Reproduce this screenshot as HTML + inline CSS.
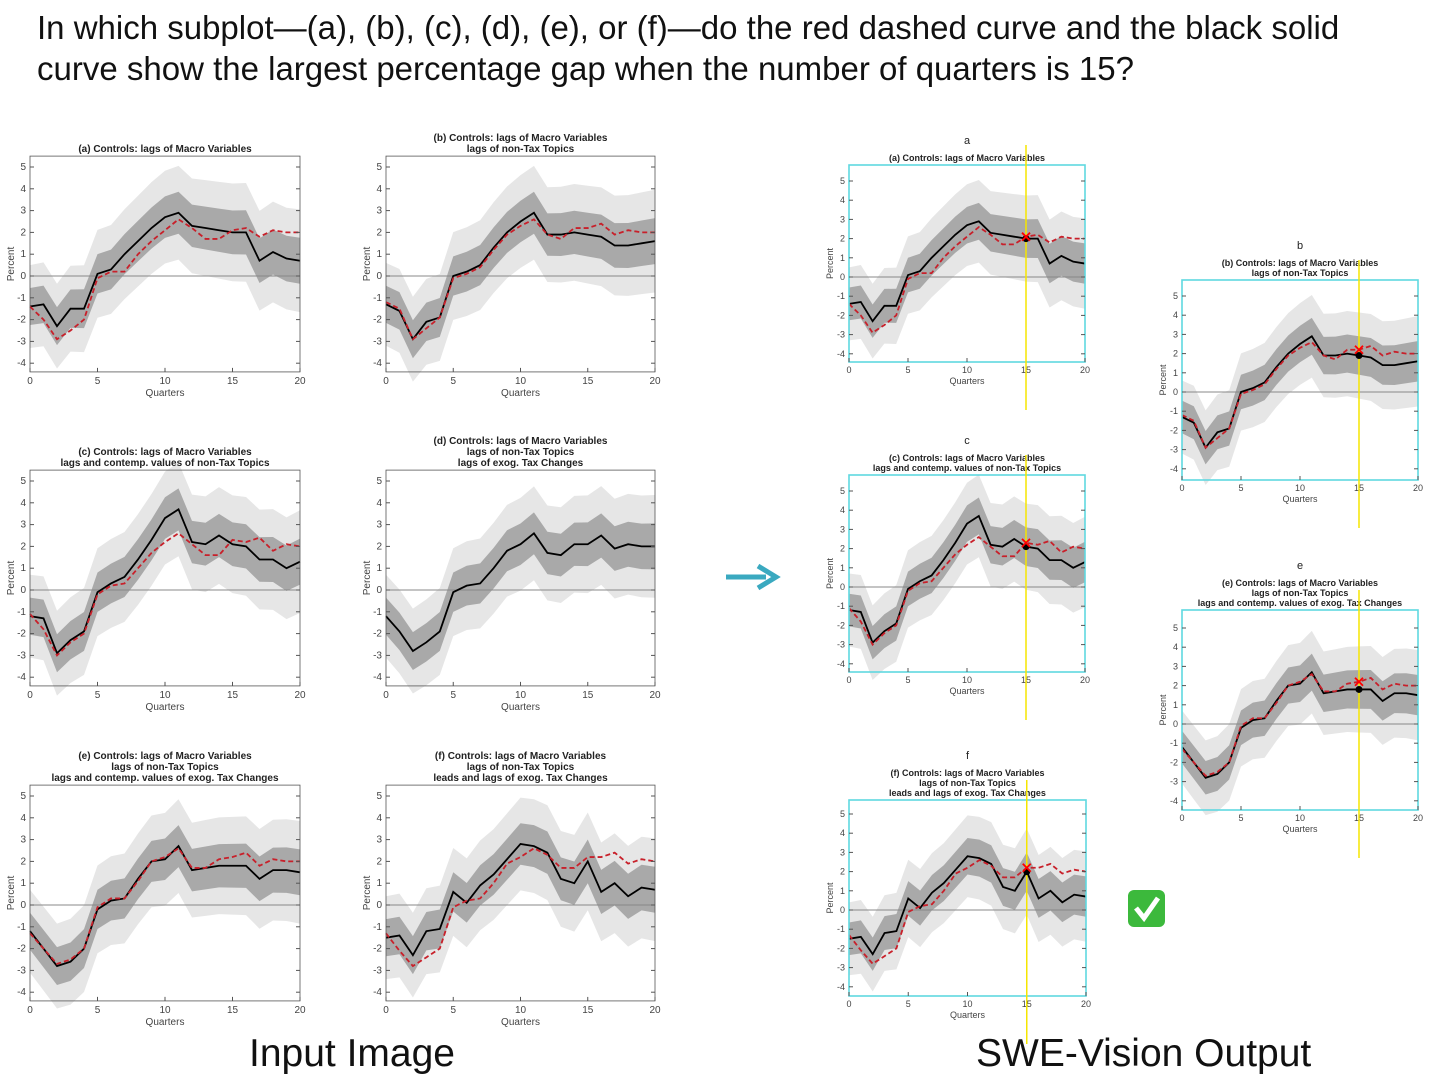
<!DOCTYPE html>
<html><head><meta charset="utf-8"><style>
html,body{margin:0;padding:0;background:#fff;}
body{width:1452px;height:1086px;overflow:hidden;position:relative;font-family:"Liberation Sans",sans-serif;}
.q{position:absolute;left:37px;top:7px;font-size:33px;line-height:41px;color:#111;white-space:nowrap;}
.cap{position:absolute;font-size:39px;color:#111;}
svg{position:absolute;left:0;top:0;}
</style></head><body>
<div class="q">In which subplot—(a), (b), (c), (d), (e), or (f)—do the red dashed curve and the black solid<br>curve show the largest percentage gap when the number of quarters is 15?</div>
<div class="cap" style="left:249px;top:1032px;">Input Image</div>
<div class="cap" style="left:976px;top:1032px;">SWE-Vision Output</div>
<svg id="s" width="1452" height="1086" xmlns="http://www.w3.org/2000/svg"></svg>
<script>
const D={
a:{k:[-1.4,-1.3,-2.3,-1.5,-1.5,0.1,0.3,1.0,1.6,2.2,2.7,2.9,2.3,2.2,2.1,2.0,2.0,0.7,1.1,0.8,0.7],
 r:[-1.4,-2.0,-2.9,-2.5,-2.0,-0.1,0.2,0.2,1.0,1.6,2.1,2.6,2.2,1.7,1.7,2.1,2.2,1.8,2.1,2.0,2.0],
 t:["(a) Controls: lags of Macro Variables"]},
b:{k:[-1.3,-1.6,-2.9,-2.1,-1.9,0.0,0.2,0.5,1.3,2.0,2.5,2.9,1.9,1.9,2.0,1.9,1.8,1.4,1.4,1.5,1.6],
 r:[-1.2,-1.5,-2.9,-2.4,-1.9,-0.1,0.1,0.4,1.2,1.9,2.3,2.6,1.9,1.7,2.2,2.2,2.4,1.9,2.1,2.0,2.0],
 t:["(b) Controls: lags of Macro Variables","lags of non-Tax Topics"]},
c:{k:[-1.2,-1.3,-2.9,-2.3,-1.9,-0.1,0.3,0.6,1.4,2.3,3.3,3.7,2.2,2.1,2.5,2.1,2.0,1.4,1.4,1.0,1.3],
 r:[-1.1,-1.8,-3.0,-2.4,-2.0,-0.2,0.2,0.3,1.0,1.7,2.2,2.6,2.1,1.6,1.6,2.3,2.2,2.4,1.8,2.1,2.0],
 t:["(c) Controls: lags of Macro Variables","lags and contemp. values of non-Tax Topics"]},
d:{k:[-1.2,-1.9,-2.8,-2.4,-1.9,-0.1,0.2,0.3,1.0,1.8,2.1,2.6,1.7,1.6,2.1,2.1,2.5,1.9,2.1,2.0,2.0],r:null,
 t:["(d) Controls: lags of Macro Variables","lags of non-Tax Topics","lags of exog. Tax Changes"]},
e:{k:[-1.2,-2.0,-2.8,-2.6,-2.0,-0.2,0.2,0.3,1.2,2.0,2.1,2.7,1.6,1.7,1.8,1.8,1.8,1.2,1.6,1.6,1.5],
 r:[-1.3,-2.0,-2.7,-2.5,-2.0,-0.1,0.3,0.3,1.1,2.0,2.2,2.6,1.7,1.7,2.1,2.2,2.4,1.8,2.1,2.0,2.0],
 t:["(e) Controls: lags of Macro Variables","lags of non-Tax Topics","lags and contemp. values of exog. Tax Changes"]},
f:{k:[-1.5,-1.4,-2.3,-1.2,-1.1,0.6,0.1,0.9,1.4,2.1,2.8,2.7,2.4,1.2,1.0,2.0,0.6,1.0,0.4,0.8,0.7],
 r:[-1.3,-2.1,-2.8,-2.4,-2.0,-0.1,0.2,0.3,1.0,1.9,2.2,2.6,2.3,1.7,1.7,2.2,2.2,2.4,1.9,2.1,2.0],
 t:["(f) Controls: lags of Macro Variables","lags of non-Tax Topics","leads and lags of exog. Tax Changes"]}
};
let out="";
function panel(key,L,R,T,B,zy,u,fs,right,lab){
 const d=D[key];const X=q=>L+(R-L)*q/20, Y=v=>zy-v*u;
 const band=(w)=>{let p=d.k.map((v,i)=>X(i)+","+Y(v+w*(1+0.012*i))).join(" ");
  let p2=d.k.map((v,i)=>X(i)+","+Y(v-w*(1+0.012*i))).reverse().join(" ");return `<polygon points="${p} ${p2}" fill="${w>1.5?'#e6e6e6':'#a9a9a9'}"/>`;};
 out+=band(1.9)+band(0.85);
 out+=`<line x1="${L}" x2="${R}" y1="${zy}" y2="${zy}" stroke="#888" stroke-width="1"/>`;
 const pl=a=>a.map((v,i)=>X(i)+","+Y(v)).join(" ");
 out+=`<polyline points="${pl(d.k)}" fill="none" stroke="#000" stroke-width="1.8"/>`;
 if(d.r)out+=`<polyline points="${pl(d.r)}" fill="none" stroke="#c8202a" stroke-width="1.8" stroke-dasharray="5,3"/>`;
 out+=`<rect x="${L}" y="${T}" width="${R-L}" height="${B-T}" fill="none" stroke="${right?'#5fd8e0':'#555'}" stroke-width="${right?1.6:0.8}"/>`;
 for(let v=-4;v<=5;v++){out+=`<line x1="${L}" x2="${L+4}" y1="${Y(v)}" y2="${Y(v)}" stroke="#555"/><line x1="${R}" x2="${R-4}" y1="${Y(v)}" y2="${Y(v)}" stroke="#555"/>`;
  out+=`<text x="${L-4}" y="${Y(v)+3}" font-size="${fs}" text-anchor="end" fill="#444">${v}</text>`;}
 for(let q=0;q<=20;q+=5){out+=`<line x1="${X(q)}" x2="${X(q)}" y1="${B}" y2="${B-4}" stroke="#555"/><text x="${X(q)}" y="${B+fs+2}" font-size="${fs}" text-anchor="middle" fill="#444">${q}</text>`;}
 const cx=(L+R)/2;
 out+=`<text x="${cx}" y="${B+2*fs+4}" font-size="${fs}" text-anchor="middle" fill="#444">Quarters</text>`;
 out+=`<text transform="translate(${L-16},${(T+B)/2}) rotate(-90)" font-size="${fs}" text-anchor="middle" fill="#444">Percent</text>`;
 const n=d.t.length;d.t.forEach((s,i)=>{out+=`<text x="${cx}" y="${T-4-(n-1-i)*(fs+1)}" font-size="${fs}" font-weight="bold" text-anchor="middle" fill="#222">${s}</text>`;});
 if(right){const x15=X(15);out+=`<line x1="${x15}" x2="${x15}" y1="${T-20}" y2="${B+48}" stroke="#f5e600" stroke-width="1.5"/>`;
  out+=`<circle cx="${x15}" cy="${Y(d.k[15])}" r="3.5" fill="#000"/>`;
  const ry=Y(d.r[15]);out+=`<path d="M${x15-4} ${ry-4}L${x15+4} ${ry+4}M${x15+4} ${ry-4}L${x15-4} ${ry+4}" stroke="#f00" stroke-width="1.8"/>`;
  out+=`<text x="${cx}" y="${T-(n+0.3)*(fs+1)-8}" font-size="11" text-anchor="middle" fill="#222">${lab}</text>`;}
}
const LU=21.8;
[["a",30,300,276],["b",386,655,276],["c",30,300,590],["d",386,655,590],["e",30,300,905],["f",386,655,905]].forEach(p=>{
 panel(p[0],p[1],p[2],p[3]-5.5*LU,p[3]+4.4*LU,p[3],LU,10,false);});
const RU=19.2;
[["a",849,1085,165,362,277],["b",1182,1418,280,480,392],["c",849,1085,475,672,587],["e",1182,1418,610,810,724],["f",849,1086,800,996,910]].forEach(p=>{
 panel(p[0],p[1],p[2],p[3],p[4],p[5],RU,9,true,p[0]);});
out+=`<line x1="726" y1="577" x2="766" y2="577" stroke="#3aa9c0" stroke-width="5"/><path d="M758 566 L776 577 L758 588" fill="none" stroke="#3aa9c0" stroke-width="5"/>`;
out+=`<rect x="1128" y="890" width="37" height="37" rx="6" fill="#3cb93c"/><path d="M1136 908 L1144 918 L1158 898" fill="none" stroke="#fff" stroke-width="5"/>`;
document.getElementById("s").innerHTML=out;
</script>
</body></html>
